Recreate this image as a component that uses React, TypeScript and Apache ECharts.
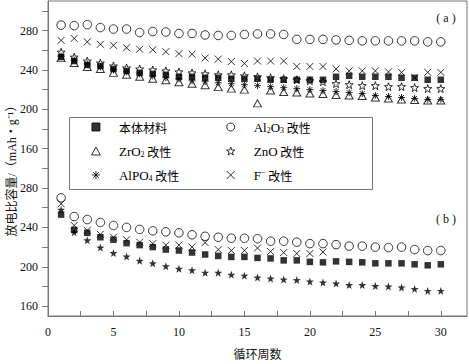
import React, { useEffect, useRef } from 'react';
import * as echarts from 'echarts';

// ---------- data ----------
const cycles = [1, 2, 3, 4, 5, 6, 7, 8, 9, 10, 11, 12, 13, 14, 15, 16, 17, 18, 19, 20, 21, 22, 23, 24, 25, 26, 27, 28, 29, 30];

// panel (a)
const aBulk = [253, 249, 245, 244, 241, 239, 237, 236, 235, 233, 233, 232, 232, 231, 231, 231, 230, 230, 230, 230, 230, 233, 234, 233, 233, 233, 232, 232, 230, 230];
const aAl2O3 = [285.5, 285, 286, 283, 281.5, 281.5, 278, 279, 278.5, 277, 277, 275.5, 275, 275, 276, 276.5, 276.5, 276, 271, 271, 271, 270.5, 270, 269.5, 269.5, 269.5, 269.5, 269.5, 268.5, 268.5];
const aZrO2 = [252, 247, 243, 241, 237, 235, 233, 231, 229.5, 227.5, 226, 224.5, 222.5, 221, 220, 206, 219, 217.5, 217, 216, 215.5, 214.5, 214, 213.5, 212, 211, 210, 209.5, 209, 209];
const aZnO = [258, 253, 249, 247, 244, 242, 241, 240, 239, 238, 237, 236, 235, 235, 234, 233, 232, 231, 230, 229, 228, 226, 225, 224, 224, 223, 223, 222, 221, 221];
const aAlPO4 = [254, 250, 246, 243, 240, 238, 236, 234, 232, 231, 229, 228, 227, 226, 225, 224, 223, 222, 221, 220, 219, 218, 217, 216, 214, 213, 212, 211, 210, 210];
const aF = [270, 272, 268.5, 266, 265, 262.5, 261, 260.5, 258.5, 256.5, 256, 252, 251, 248.5, 246.5, 249, 249, 249, 243.5, 243.5, 243.5, 241, 239, 239, 239, 238, 237.5, 232, 237.5, 237.5];

// panel (b)
const bBulk = [253, 237.5, 234.5, 230, 227.5, 224, 222, 220, 217.5, 216.5, 214.5, 212.5, 211, 210, 210, 209, 208.5, 206.5, 206.5, 205, 204.5, 205.5, 205, 204.5, 203.5, 203.5, 203.5, 202.5, 201.5, 202.5];
const bAl2O3 = [270, 251, 248, 245, 242, 240, 238, 236.5, 235.5, 234.5, 232.5, 231, 230, 229, 229, 228.5, 226, 226, 225, 223.5, 223.5, 222.5, 221, 221, 220, 219.5, 220, 217.5, 216.5, 216.5];
const bZnO = [258, 235, 227, 219.5, 214, 210.5, 206, 203.5, 200.5, 198, 196.5, 194, 194, 192, 191, 189, 188, 187, 186.5, 185, 184, 183, 181.5, 181.5, 180.5, 180, 179, 177.5, 175.5, 175.5];
const bF = [264, 242, 237, 233, 230, 227.5, 225, 223.5, 222, 222, 220, 224.5, 217.5, 216.5, 216.5, 219, 215.5, 214.5, 213.5, 213.5, 215];

// axes
const xTickValues = [0, 2.5, 5, 7.5, 10, 12.5, 15, 17.5, 20, 22.5, 25, 27.5, 30];
const xLabelValues = [0, 5, 10, 15, 20, 25, 30];
const panelTickValues = [160, 180, 200, 220, 240, 260, 280, 300];
const panelLabelValues = [160, 200, 240, 280];
const PANEL_OFFSET = 160; // panel (a) is drawn above panel (b) on a shared value axis

const names = ['本体材料', 'Al2O3 改性', 'ZrO2 改性', 'ZnO 改性', 'AlPO4 改性', 'F- 改性'];
const legendText: Record<string, string> = {
  '本体材料': '{c|本体材料}',
  'Al2O3 改性': '{t|Al}{s|2}{t|O}{s|3}{c| 改性}',
  'ZrO2 改性': '{t|ZrO}{s|2}{c| 改性}',
  'ZnO 改性': '{t|ZnO}{c| 改性}',
  'AlPO4 改性': '{t|AlPO}{s|4}{c| 改性}',
  'F- 改性': '{t|F}{p|−}{c| 改性}',
};

// ---------- symbols ----------
function starPath(): string {
  let d = '';
  for (let i = 0; i < 10; i++) {
    const r = i % 2 ? 4 : 10;
    const ang = -Math.PI / 2 + (i * Math.PI) / 5;
    d += (i ? 'L' : 'M') + (10 + r * Math.cos(ang)).toFixed(2) + ',' + (10 + r * Math.sin(ang)).toFixed(2);
  }
  return 'path://' + d + 'Z';
}
const SQUARE = 'path://M0,0L10,0L10,10L0,10Z';
const TRIANGLE = 'path://M5,0L10,9L0,9Z';
const STAR = starPath();
const ASTERISK = 'path://M5,0L5,10M0,5L10,5M1.5,1.5L8.5,8.5M8.5,1.5L1.5,8.5';
const CROSS = 'path://M0,0L10,10M10,0L0,10';

const SERIF = '"Liberation Serif", "DejaVu Serif", serif';
const CJK = '"Noto Sans CJK SC", sans-serif';

const open = { color: 'rgba(0,0,0,0)', borderColor: '#000', borderWidth: 1 };
const filled = { color: '#000', borderColor: '#000', borderWidth: 0 };

function top(vals: number[]) {
  return vals.map((v, i) => [cycles[i], v + PANEL_OFFSET]);
}
function bottom(vals: number[]) {
  return vals.map((v, i) => [cycles[i], v]);
}

export default function App() {
  const ref = useRef<HTMLDivElement>(null);
  useEffect(() => {
    if (!ref.current) return;
    const chart = echarts.init(ref.current, undefined, { renderer: 'svg' });
    const legendBase = {
      orient: 'vertical' as const,
      top: 120,
      padding: 0,
      itemGap: 10,
      itemWidth: 36,
      itemHeight: 8,
      selectedMode: false,
      symbolKeepAspect: true,
      itemStyle: { borderWidth: 1 },
      formatter: (n: string) => legendText[n] || n,
      textStyle: {
        color: '#000',
        fontSize: 12,
        lineHeight: 14,
        rich: {
          t: { fontFamily: SERIF, fontSize: 13, color: '#000' },
          c: { fontFamily: CJK, fontSize: 12, color: '#000' },
          s: { fontFamily: SERIF, fontSize: 8, verticalAlign: 'bottom', lineHeight: 10, color: '#000' },
          p: { fontFamily: SERIF, fontSize: 8, verticalAlign: 'top', lineHeight: 8, color: '#000' },
        },
      },
    };
    chart.setOption({
      animation: false,
      backgroundColor: '#fff',
      grid: { left: 48, right: 2, top: 1, bottom: 46, show: true, borderColor: '#777', borderWidth: 1 },
      xAxis: {
        type: 'value',
        min: 0,
        max: 32,
        axisLine: { lineStyle: { color: '#777' } },
        axisTick: { inside: true, length: 5, customValues: xTickValues, lineStyle: { color: '#777' } },
        axisLabel: { customValues: xLabelValues, margin: 10, fontFamily: SERIF, fontSize: 12, color: '#111' },
        splitLine: { show: false },
        name: '循环周数',
        nameLocation: 'middle',
        nameGap: 31,
        nameTextStyle: { fontFamily: CJK, fontSize: 12, color: '#111' },
      },
      yAxis: {
        type: 'value',
        min: 150,
        max: 470,
        axisLine: { show: true, lineStyle: { color: '#777' } },
        axisTick: {
          show: true,
          length: 6,
          customValues: panelTickValues.concat(panelTickValues.map((v) => v + PANEL_OFFSET)),
          lineStyle: { color: '#777' },
        },
        axisLabel: {
          customValues: panelLabelValues.concat(panelLabelValues.map((v) => v + PANEL_OFFSET)),
          formatter: (v: number) => String(v > 300 ? v - PANEL_OFFSET : v),
          margin: 10,
          fontFamily: SERIF,
          fontSize: 12,
          color: '#111',
        },
        splitLine: { show: false },
      },
      legend: [
        { ...legendBase, left: 91, data: [names[0], names[2], names[4]] },
        { ...legendBase, left: 226, data: [names[1], names[3], names[5]] },
      ],
      graphic: [
        {
          type: 'rect',
          left: 67,
          top: 115,
          shape: { width: 303, height: 72 },
          style: { fill: 'none', stroke: '#777', lineWidth: 1 },
          z: 1,
        },
        {
          type: 'text',
          x: 446,
          y: 18,
          style: { text: '( a )', fontFamily: SERIF, fontSize: 12, fill: '#111', align: 'center', verticalAlign: 'middle' },
        },
        {
          type: 'text',
          x: 446,
          y: 219,
          style: { text: '( b )', fontFamily: SERIF, fontSize: 12, fill: '#111', align: 'center', verticalAlign: 'middle' },
        },
        {
          type: 'text',
          x: 12,
          y: 168,
          rotation: Math.PI / 2,
          style: {
            text: '放电比容量/（mAh・g⁻¹）',
            font: '12px "Liberation Serif", "Noto Sans CJK SC", serif',
            align: 'center',
            verticalAlign: 'middle',
            fill: '#111',
          },
        },
      ],
      series: [
        // panel (a)
        { name: names[1], type: 'scatter', data: top(aAl2O3), symbol: 'circle', symbolSize: 8.5, itemStyle: open },
        { name: names[5], type: 'scatter', data: top(aF), symbol: CROSS, symbolSize: 7, itemStyle: open },
        { name: names[2], type: 'scatter', data: top(aZrO2), symbol: TRIANGLE, symbolSize: [8, 7], itemStyle: open },
        { name: names[4], type: 'scatter', data: top(aAlPO4), symbol: ASTERISK, symbolSize: 7, itemStyle: open },
        { name: names[3], type: 'scatter', data: top(aZnO), symbol: STAR, symbolSize: 8, itemStyle: open },
        { name: names[0], type: 'scatter', data: top(aBulk), symbol: SQUARE, symbolSize: 6.5, itemStyle: filled },
        // panel (b)
        { name: 'Al2O3 改性 (b)', type: 'scatter', data: bottom(bAl2O3), symbol: 'circle', symbolSize: 8.5, itemStyle: open },
        { name: 'F- 改性 (b)', type: 'scatter', data: bottom(bF), symbol: CROSS, symbolSize: 7, itemStyle: open },
        { name: 'ZnO 改性 (b)', type: 'scatter', data: bottom(bZnO), symbol: STAR, symbolSize: 8, itemStyle: filled },
        { name: '本体材料 (b)', type: 'scatter', data: bottom(bBulk), symbol: SQUARE, symbolSize: 6.5, itemStyle: filled },
      ],
    });
    return () => chart.dispose();
  }, []);
  return <div ref={ref} style={{ width: 469, height: 364, position: 'absolute', left: 0, top: 0 }} />;
}
